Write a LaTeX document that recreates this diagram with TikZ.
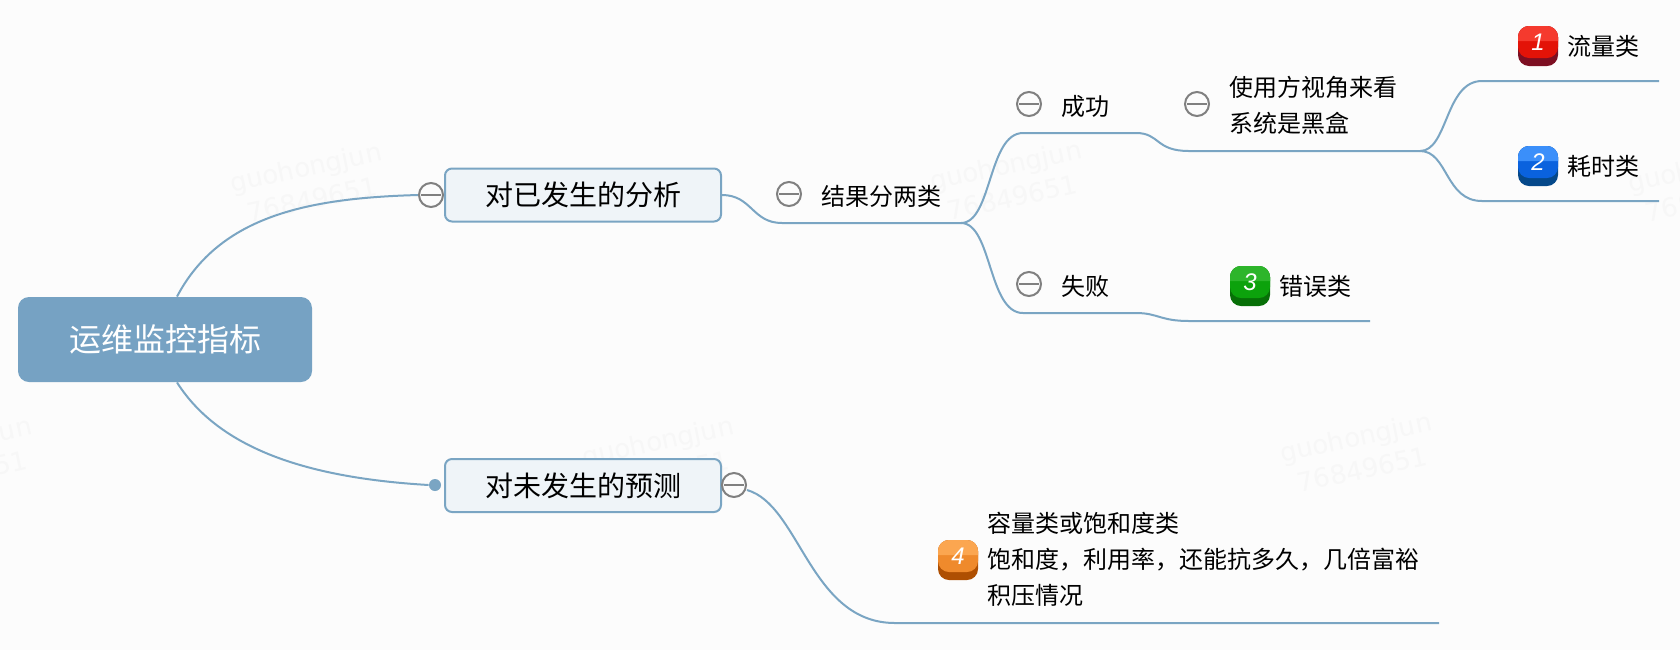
\documentclass[tikz,border=0pt]{standalone}
\usepackage{fontspec}
\setmainfont{Noto Sans CJK SC}
\newfontfamily\latinfont{DejaVu Sans}
\newfontfamily\digitfont{Liberation Sans}
\usepackage{xcolor}
\usetikzlibrary{arrows.meta, positioning, calc}
\definecolor{paperwhite}{HTML}{FCFCFC}
\definecolor{branchblue}{HTML}{7AA5C3}
\definecolor{rootblue}{HTML}{76A2C3}
\definecolor{topicfill}{HTML}{EFF4F8}
\definecolor{collapsegray}{HTML}{808080}
\definecolor{watermarkgray}{HTML}{F7F7F7}
\definecolor{redtop}{HTML}{F53A2E}
\definecolor{redmid}{HTML}{E31308}
\definecolor{redlow}{HTML}{7D0F22}
\definecolor{bluetop}{HTML}{3B8FFA}
\definecolor{bluemid}{HTML}{0A62DE}
\definecolor{bluelow}{HTML}{05488A}
\definecolor{greentop}{HTML}{2DB52B}
\definecolor{greenmid}{HTML}{0CA20C}
\definecolor{greenlow}{HTML}{076F07}
\definecolor{orangetop}{HTML}{FBA650}
\definecolor{orangemid}{HTML}{EF8A2C}
\definecolor{orangelow}{HTML}{AE4F02}
\tikzset{
  rootbox/.style={draw=none, fill=rootblue, rounded corners=5.5pt, text=white, inner sep=0pt,
    minimum width=147pt, minimum height=42.5pt, font=\fontsize{16}{20}\selectfont},
  topicbox/.style={draw=branchblue, line width=1pt, fill=topicfill, rounded corners=3.5pt, inner sep=0pt,
    minimum width=138pt, minimum height=26.5pt, font=\fontsize{14}{18}\selectfont},
  leaftext/.style={anchor=west, inner sep=0pt, align=left, font=\fontsize{12}{18}\selectfont},
  branchline/.style={draw=branchblue, line width=1pt},
  collapse/.style={circle, draw=collapsegray, line width=1pt, fill=paperwhite, inner sep=0pt, minimum size=12pt,
    path picture={\draw[collapsegray, line width=1pt] ([xshift=1.2pt]path picture bounding box.west) -- ([xshift=-1.2pt]path picture bounding box.east);}},
  enddot/.style={circle, fill=branchblue, inner sep=0pt, minimum size=6pt},
  watermark/.style={text=watermarkgray, rotate=12, align=center, font=\latinfont\fontsize{13}{16.5}\selectfont}
}
% badge: name, x, y, digit, three colours
\newcommand{\drawbadge}[7]{
  \begin{scope}[shift={(#2,#3)}]
    \fill[#7, rounded corners=5.5pt] (-20,-20) rectangle (20,20);
    \fill[#6, rounded corners=5.5pt] (-20,-20) rectangle (20,12);
    \fill[#5] (-20,-5) [rounded corners=5.5pt] -- (-20,-20) -- (20,-20) [sharp corners] -- (20,-5) -- cycle;
    \node[text=white, inner sep=0pt, font=\digitfont\itshape\fontsize{12}{14}\selectfont] (#1) at (0,-4) {#4};
  \end{scope}
}

\begin{document}
\begin{tikzpicture}[x=0.5pt, y=-0.5pt]
    % Paper
    \clip (0, 0) rectangle (1680, 650);
    \fill[paperwhite] (0, 0) rectangle (1680, 650);

    % Watermarks
    \node[watermark] (markone) at (309, 183) {guohongjun\\76849651};
    \node[watermark] (marktwo) at (1009, 181) {guohongjun\\76849651};
    \node[watermark] (markthree) at (661, 457) {guohongjun\\76849651};
    \node[watermark] (markfour) at (1359, 453) {guohongjun\\76849651};
    \node[watermark] (markfive) at (1707, 183) {guohongjun\\76849651};
    \node[watermark] (marksix) at (-41, 457) {guohongjun\\76849651};

    % Topics
    \node[rootbox] (root) at (165, 339.5) {运维监控指标};
    \node[topicbox] (past) at (583, 195) {对已发生的分析};
    \node[topicbox] (future) at (583, 485.5) {对未发生的预测};

    % Collapse marks and end dot
    \node[collapse] (pastmark) at (431, 195) {};
    \node[enddot] (futuredot) at (435, 485) {};
    \node[collapse] (futuremark) at (734, 485) {};
    \node[collapse] (resultmark) at (789, 194) {};
    \node[collapse] (successmark) at (1029, 104) {};
    \node[collapse] (failmark) at (1029, 284) {};
    \node[collapse] (blackboxmark) at (1197, 104) {};

    % Leaf texts
    \node[leaftext] (result) at (821, 196) {结果分两类};
    \node[leaftext] (success) at (1061, 106) {成功};
    \node[leaftext] (fail) at (1061, 286) {失败};
    \node[leaftext] (blackbox) at (1229, 105) {使用方视角来看\\系统是黑盒};
    \node[leaftext] (traffic) at (1567, 46) {流量类};
    \node[leaftext] (latency) at (1567, 166) {耗时类};
    \node[leaftext] (errors) at (1279, 286) {错误类};
    \node[leaftext] (capacity) at (987, 559.5) {容量类或饱和度类\\饱和度，利用率，还能抗多久，几倍富裕\\积压情况};

    % Badges
    \drawbadge{badgeone}{1538}{46}{1}{redtop}{redmid}{redlow}
    \drawbadge{badgetwo}{1538}{166}{2}{bluetop}{bluemid}{bluelow}
    \drawbadge{badgethree}{1250}{286}{3}{greentop}{greenmid}{greenlow}
    \drawbadge{badgefour}{958}{560}{4}{orangetop}{orangemid}{orangelow}

    % Joints
    \coordinate (resulthub) at (961, 223);
    \coordinate (successbend) at (1136, 133);
    \coordinate (failbend) at (1136, 313);
    \coordinate (blackboxhub) at (1420, 151);
    \coordinate (trafficend) at (1659, 81);
    \coordinate (latencyend) at (1659, 201);
    \coordinate (errorsend) at (1370, 321);
    \coordinate (capacityend) at (1439, 623);

    % Branches from the root
    \draw[branchline] ([xshift=6pt]root.north) .. controls (220, 215) and (310, 198) .. (pastmark.west);
    \draw[branchline] ([xshift=6pt]root.south) .. controls (220, 450) and (310, 478) .. (futuredot.west);

    % Upper branches
    \draw[branchline] (past.east) .. controls (752, 195) and (752, 223) .. (782, 223) -- (resulthub);
    \draw[branchline] (resulthub) .. controls (992, 223) and (988, 133) .. (1023, 133) -- (successbend)
        .. controls (1160, 133) and (1155, 151) .. (1189, 151) -- (blackboxhub);
    \draw[branchline] (resulthub) .. controls (992, 223) and (988, 313) .. (1023, 313) -- (failbend)
        .. controls (1158, 313) and (1160, 321) .. (1189, 321) -- (errorsend);
    \draw[branchline] (blackboxhub) .. controls (1448, 151) and (1445, 81) .. (1482, 81) -- (trafficend);
    \draw[branchline] (blackboxhub) .. controls (1448, 151) and (1445, 201) .. (1482, 201) -- (latencyend);

    % Lower branch
    \draw[branchline] (futuremark) ++(13, 5) .. controls (800, 505) and (810, 623) .. (895, 623) -- (capacityend);
\end{tikzpicture}
\end{document}
